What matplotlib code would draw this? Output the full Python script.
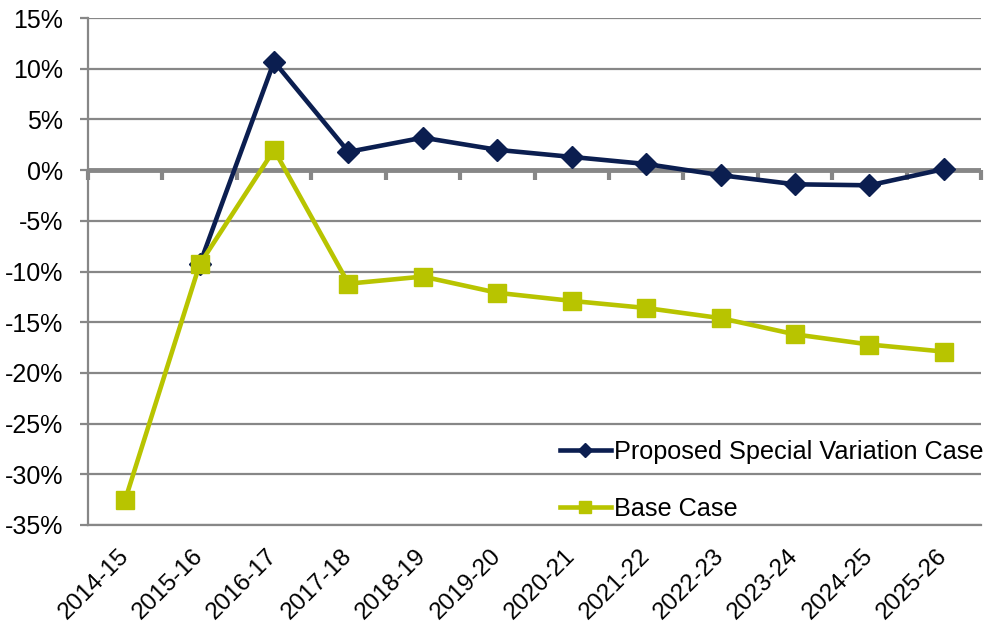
import matplotlib
matplotlib.use("Agg")
import matplotlib.pyplot as plt
import matplotlib.transforms as mtransforms
from matplotlib.ticker import FuncFormatter, MultipleLocator
import numpy as np

plt.rcParams["font.family"] = ["Liberation Sans", "DejaVu Sans"]

years = ["2014-15", "2015-16", "2016-17", "2017-18", "2018-19", "2019-20",
         "2020-21", "2021-22", "2022-23", "2023-24", "2024-25", "2025-26"]
special_var = [np.nan, -9.3, 10.7, 1.8, 3.2, 2.0, 1.3, 0.6, -0.5, -1.4, -1.5, 0.1]
base_case = [-32.5, -9.3, 2.0, -11.2, -10.5, -12.1, -12.9, -13.6, -14.6, -16.2, -17.2, -17.9]

navy = "#0B1E50"
lime = "#B8C400"
grey = "#878787"

fig = plt.figure(figsize=(9.89, 6.25), dpi=100)
ax = fig.add_axes([0.089, 0.16, 0.903, 0.8112])

x = np.arange(len(years))
ax.plot(x, special_var, color=navy, lw=3.3, marker="D", ms=11,
        label="Proposed Special Variation Case", zorder=3)
ax.plot(x, base_case, color=lime, lw=3.3, marker="s", ms=13,
        label="Base Case", zorder=4)

ax.set_xlim(-0.5, len(years) - 0.5)
ax.set_ylim(-35, 15)
ax.yaxis.set_major_locator(MultipleLocator(5))
ax.yaxis.set_major_formatter(FuncFormatter(lambda v, p: f"{v:.0f}%"))
ax.grid(axis="y", color=grey, lw=1.6)
ax.set_axisbelow(True)

for s in ["top", "right"]:
    ax.spines[s].set_visible(False)
ax.spines["left"].set_color(grey)
ax.spines["left"].set_linewidth(1.6)
ax.spines["bottom"].set_color(grey)
ax.spines["bottom"].set_linewidth(1.6)

ax.tick_params(axis="y", direction="out", length=6, width=1.6, color=grey,
               labelsize=18, pad=12)
ax.set_xticks(x)
ax.set_xticklabels(years, rotation=45, ha="right", va="center",
                   rotation_mode="anchor", fontsize=17.5)
ax.tick_params(axis="x", length=0, pad=20)

# zero line with category tick marks
ax.axhline(0, color=grey, lw=3.5, zorder=2)
zero_ax = ax.secondary_xaxis(35 / 50)
zero_ax.set_xticks(np.arange(len(years) + 1) - 0.5)
zero_ax.set_xticklabels([])
zero_ax.tick_params(direction="in", length=7, width=3, color=grey)
for s in zero_ax.spines.values():
    s.set_visible(False)

leg = ax.legend(loc="upper left", bbox_to_anchor=(560 / 989, 1 - 440 / 625),
                bbox_transform=fig.transFigure, frameon=False, fontsize=18.2,
                handlelength=2.0, handletextpad=0.15, labelspacing=1.3,
                borderpad=0, borderaxespad=0, markerscale=0.65)

fig.savefig("out.png", dpi=100)
